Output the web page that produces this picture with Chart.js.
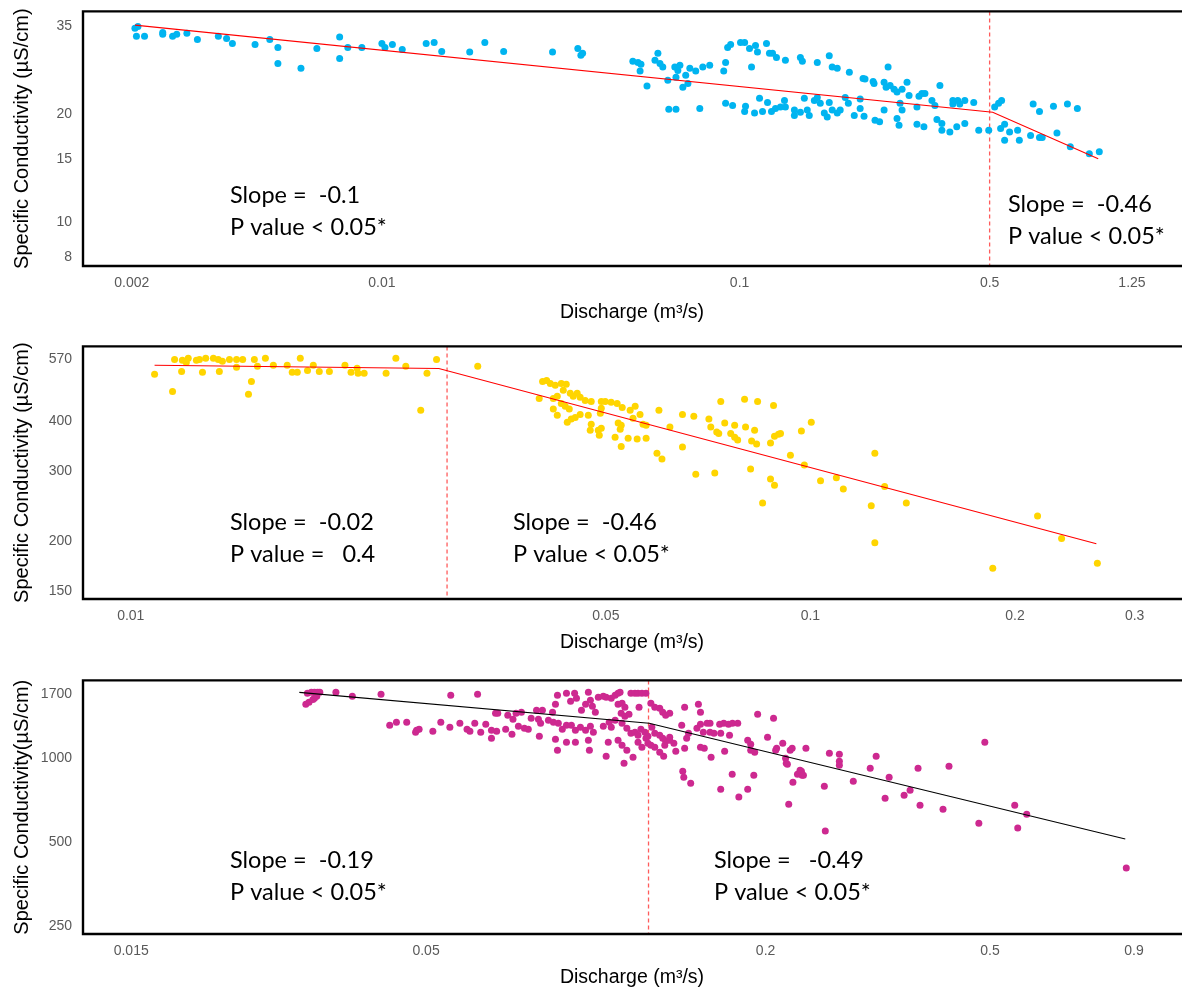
<!DOCTYPE html>
<html>
<head>
<meta charset="utf-8">
<script src="https://cdn.jsdelivr.net/npm/chart.js@4.4.1/dist/chart.umd.min.js"></script>
<style>
    html, body { margin: 0; padding: 0; background: #fff; overflow: hidden; }
    .panel { position: absolute; left: 0; width: 1186px; }
    canvas { display: block; }
</style>
</head>
<body>
<div class="panel" style="top:-7px"><canvas id="c1" width="1186" height="337"></canvas></div>
<div class="panel" style="top:328px"><canvas id="c2" width="1186" height="332"></canvas></div>
<div class="panel" style="top:662px"><canvas id="c3" width="1186" height="333"></canvas></div>
<script>
// ====== Panel 1 (blue) : discharge (m3/s) vs specific conductivity (uS/cm) ======
const q1 = [0.00204, 0.00208, 0.00206, 0.00217, 0.00244, 0.00244, 0.00260, 0.00267, 0.00285, 0.00305, 0.00349, 0.00368, 0.00382, 0.00442, 0.00486, 0.00512, 0.00512, 0.00594, 0.00658, 0.00762, 0.00762, 0.00803, 0.00879, 0.0100, 0.0102, 0.0107,
    0.0114, 0.0133, 0.0140, 0.0147, 0.0176, 0.0194, 0.0219, 0.0300, 0.0353, 0.0360, 0.0364,
    0.0503, 0.0520, 0.0530, 0.0527, 0.0551, 0.0591, 0.0580, 0.0599, 0.0610, 0.0630, 0.0659, 0.0681, 0.0672, 0.0664, 0.0694, 0.0717, 0.0707, 0.0726, 0.0754, 0.0789, 0.0825, 0.0634, 0.0664, 0.0774,
    0.0903, 0.0914, 0.0926, 0.0944, 0.1006, 0.1033, 0.1066, 0.1080, 0.1108, 0.1122, 0.1189, 0.1212, 0.1236, 0.1268, 0.1343, 0.1479, 0.1498, 0.1649, 0.1781, 0.1815, 0.1875, 0.2027, 0.2214, 0.2242, 0.2362, 0.2376, 0.2535, 0.2601, 0.2568, 0.2635, 0.2703, 0.2755, 0.2846, 0.2938, 0.2977, 0.3173, 0.3234, 0.3297, 0.3449, 0.3516, 0.3631,
    0.0914, 0.0956, 0.1033, 0.1039, 0.1101, 0.1137, 0.1159, 0.1197, 0.1228, 0.1260, 0.1301, 0.1335, 0.1343, 0.1423, 0.1423, 0.1479, 0.1517, 0.1546, 0.1566, 0.1618, 0.1649, 0.1681, 0.1725, 0.1758, 0.1781, 0.1815, 0.1875, 0.1911, 0.1974, 0.2014, 0.2092, 0.2173, 0.2228, 0.2173, 0.2391, 0.2463, 0.2535, 0.2791, 0.2755, 0.2809, 0.2846, 0.3132, 0.3276, 0.3132, 0.3562, 0.3677, 0.3677,
    0.3871, 0.3946, 0.3946, 0.4047, 0.4073, 0.4126, 0.4262, 0.4262, 0.4514, 0.4662, 0.4972, 0.5165, 0.5298, 0.5401, 0.5367, 0.5507, 0.5686, 0.5507, 0.5987, 0.6054, 0.6508, 0.6617, 0.6893, 0.6893, 0.7014, 0.7541, 0.7713, 0.8251, 0.8796, 0.8405, 0.9500, 1.013];
const sc1 = [34.6, 35.0, 32.9, 32.9, 33.7, 33.3, 32.9, 33.3, 33.5, 32.2, 32.9, 32.4, 31.4, 31.2, 32.2, 30.6, 27.6, 26.8, 30.4, 32.7, 28.5, 30.6, 30.6, 31.4, 30.6, 31.2,
    30.2, 31.4, 31.6, 29.8, 29.7, 31.6, 29.8, 29.7, 30.4, 29.1, 29.5,
    28.0, 27.8, 27.5, 26.3, 23.9, 29.5, 28.2, 27.6, 27.0, 24.8, 27.0, 27.3, 26.4, 25.3, 23.7, 24.3, 25.6, 26.8, 26.3, 27.0, 27.3, 20.6, 20.6, 20.7,
    26.3, 27.8, 30.6, 31.2, 31.6, 31.6, 30.4, 27.0, 31.0, 29.7, 31.4, 29.5, 29.5, 28.7, 28.2, 28.7, 28.0, 27.8, 29.0, 27.0, 26.8, 26.1, 25.1, 25.0, 24.6, 24.3, 24.5, 27.0, 23.7, 24.0, 23.4, 23.0, 23.4, 24.5, 22.5, 22.4, 22.8, 22.8, 21.8, 21.1, 24.0,
    21.4, 21.1, 20.3, 21.0, 20.1, 22.1, 20.3, 21.5, 20.3, 20.7, 20.9, 21.8, 20.9, 19.8, 20.5, 20.2, 22.1, 20.5, 19.8, 21.8, 22.2, 21.4, 20.1, 19.6, 21.5, 20.5, 20.1, 20.5, 22.2, 21.4, 19.8, 22.0, 19.7, 20.7, 19.2, 19.0, 20.5, 18.6, 19.4, 21.4, 20.5, 18.7, 18.4, 20.9, 19.3, 18.0, 18.8,
    17.8, 21.8, 21.3, 18.4, 21.8, 21.3, 21.8, 18.8, 21.5, 18.0, 18.0, 20.9, 21.4, 21.8, 18.2, 18.7, 17.8, 16.9, 18.0, 16.9, 17.4, 21.3, 20.3, 17.2, 17.2, 21.0, 17.7, 21.3, 20.7, 16.2, 15.5, 15.7];
const fitQ1 = [0.00204, 0.51, 1.006];
const fitSC1 = [35.3, 20.2, 15.0];
const breakQ1 = 0.5;
const xTicks1 = [0.002, 0.01, 0.1, 0.5, 1.25];
const yTicks1 = [8, 10, 15, 20, 35];

// ====== Panel 2 (gold) ======
const q2 = [0.01084, 0.01152, 0.01160, 0.01188, 0.01191, 0.01207, 0.01215, 0.01249, 0.01275, 0.01262, 0.01289, 0.01323, 0.01345, 0.01350, 0.01364, 0.01397, 0.01431, 0.01431, 0.01461, 0.01490, 0.01505, 0.01520, 0.01536, 0.01578, 0.01621, 0.01699, 0.01728, 0.01758, 0.01776, 0.01820, 0.01856, 0.01894, 0.01960, 0.02066, 0.02109, 0.02153, 0.02160, 0.02205, 0.02375, 0.02455,
    0.02539, 0.02728, 0.02818, 0.02671, 0.03240,
    0.04036, 0.04092, 0.04143, 0.04213, 0.04300, 0.04373, 0.04329, 0.04433, 0.04477, 0.04538, 0.04584, 0.04663, 0.04759, 0.04924, 0.04991, 0.05091, 0.05196, 0.05286, 0.05430, 0.05523, 0.03990, 0.04185, 0.04242, 0.04300, 0.04358, 0.04418, 0.04185, 0.04242, 0.04388, 0.04448, 0.04508, 0.04584, 0.04712, 0.04924, 0.04908, 0.04759, 0.04743, 0.04874, 0.04924, 0.04891,
    0.05214, 0.05268, 0.05250, 0.05160, 0.05268, 0.05393, 0.05560, 0.05732, 0.05483, 0.05615, 0.05672, 0.05732, 0.05986, 0.05946, 0.06048, 0.06213, 0.06483, 0.06483, 0.06737, 0.06782, 0.07233, 0.07090, 0.07136, 0.07281, 0.07331, 0.07381, 0.07481, 0.07634, 0.07737, 0.07816, 0.07737, 0.08001, 0.08028, 0.08166, 0.08194, 0.08278, 0.08334, 0.08362, 0.08826, 0.08736, 0.08855, 0.08976, 0.09037, 0.09346, 0.09700, 0.1003, 0.09797, 0.08736, 0.08855, 0.08505,
    0.1035, 0.1092, 0.1118, 0.1229, 0.1244, 0.1244, 0.1286, 0.1384, 0.1855, 0.2159, 0.2342, 0.2644];
const sc2 = [523, 474, 570, 532, 567, 560, 574, 567, 529, 570, 574, 574, 570, 532, 564, 570, 570, 545, 570, 466, 502, 570, 548, 574, 551, 551, 529, 529, 574, 535, 551, 532, 532, 551, 529, 542, 526, 526, 526, 574,
    548, 526, 570, 425, 548,
    502, 505, 496, 491, 496, 494, 477, 469, 461, 469, 458, 450, 447, 447, 447, 445, 442, 432, 425, 435, 455, 455, 461, 442, 435, 428, 428, 413, 397, 404, 408, 415, 413, 430, 418, 392, 379, 379, 383, 368,
    395, 390, 381, 364, 345, 362, 360, 362, 406, 415, 392, 390, 425, 332, 321, 386, 415, 344, 411, 294, 296, 404, 386, 375, 372, 447, 395, 372, 390, 358, 364, 453, 386, 303, 356, 379, 350, 447, 437, 352, 366, 370, 372, 328, 377, 397, 310, 286, 276, 249,
    283, 288, 270, 245, 332, 198, 274, 249, 171, 231, 203, 176];
const fitQ2 = [0.01084, 0.0284, 0.2635];
const fitSC2 = [551, 541, 197];
const breakQ2 = 0.0292;
const xTicks2 = [0.01, 0.05, 0.1, 0.2, 0.3];
const yTicks2 = [150, 200, 300, 400, 570];

// ====== Panel 3 (magenta) ======
const q3 = [0.0308, 0.0313, 0.0317, 0.0321, 0.0324, 0.0306, 0.0310, 0.0315, 0.0317, 0.0320, 0.0346, 0.0370, 0.0416, 0.0431, 0.0443, 0.0462, 0.0481, 0.0479,
    0.0553, 0.0617, 0.0486, 0.0514, 0.0531, 0.0551, 0.0574, 0.0591, 0.0598, 0.0610, 0.0625, 0.0638, 0.0653, 0.0653, 0.0667, 0.0664, 0.0670, 0.0692, 0.0698, 0.0710, 0.0713, 0.0722, 0.0729, 0.0738, 0.0747, 0.0759, 0.0768, 0.0785, 0.0791, 0.0794, 0.0798, 0.0804, 0.0824, 0.0838, 0.0848, 0.0855, 0.0887, 0.0902, 0.0917, 0.0924,
    0.0943, 0.0959, 0.0970, 0.0978, 0.0986, 0.0998, 0.1010, 0.1031, 0.1043, 0.1065, 0.1082, 0.1095, 0.1104, 0.1095, 0.1113, 0.1126, 0.1109, 0.1126, 0.1145, 0.1154, 0.1173, 0.1188, 0.1207, 0.1227, 0.1193, 0.1252, 0.1272, 0.1298, 0.1314, 0.1330, 0.1352, 0.1437, 0.1520, 0.1533, 0.1936, 0.2066,
    0.0841, 0.0858, 0.0872, 0.0887, 0.0905, 0.0920, 0.0939, 0.0959, 0.0978, 0.0990, 0.1031, 0.1056, 0.1065, 0.1082, 0.1113, 0.1135, 0.1154, 0.1173, 0.1188, 0.1202, 0.1222, 0.1237, 0.1257, 0.1272, 0.1298, 0.1314, 0.1330, 0.1352, 0.1375, 0.1420,
    0.1460, 0.1511, 0.1533, 0.1551, 0.1575, 0.1594, 0.1594, 0.1620, 0.1658, 0.1686, 0.1719, 0.1747, 0.1785, 0.1665, 0.1726, 0.1859, 0.1882, 0.2016, 0.1882, 0.1913, 0.2084, 0.2092, 0.2176, 0.2211, 0.2229, 0.2302, 0.2321, 0.2358, 0.2145, 0.2170,
    0.0848, 0.0855, 0.0887, 0.0920, 0.0970, 0.0974, 0.1043, 0.1052, 0.1095, 0.1113, 0.1122, 0.1135, 0.1164, 0.1188, 0.1207, 0.1227, 0.1237, 0.1252, 0.1272, 0.1298, 0.1319, 0.1325, 0.1352, 0.1386, 0.1437, 0.1449, 0.1533, 0.1557, 0.1601, 0.1692,
    0.1426, 0.1432, 0.1473, 0.1665, 0.1745, 0.1793, 0.1859, 0.1906, 0.2236, 0.2198,
    0.2186, 0.2278, 0.2315, 0.2334, 0.2542, 0.2552, 0.2595, 0.2703, 0.2703, 0.2703, 0.2861, 0.3066, 0.3141, 0.3258, 0.3312, 0.3521, 0.3608, 0.3727, 0.3757, 0.4127, 0.4229, 0.4777, 0.4895, 0.5531, 0.5599, 0.5808, 0.8722];
const sc3 = [1707, 1721, 1721, 1721, 1721, 1559, 1585, 1624, 1638, 1665, 1721, 1665, 1693, 1312, 1345, 1345, 1259, 1238,
    1679, 1693, 1269, 1249, 1345, 1291, 1334, 1269, 1249, 1334, 1238, 1323, 1259, 1179, 1249, 1448, 1448, 1269, 1424, 1218, 1378, 1448, 1301, 1460, 1280, 1269, 1390, 1484, 1378, 1198, 1334, 1484, 1367, 1460, 1559, 1679, 1707, 1598, 1707, 1638,
    1484, 1559, 1721, 1611, 1534, 1460, 1652, 1665, 1652, 1638, 1679, 1707, 1721, 1559, 1572, 1521, 1448, 1413, 1436, 1707, 1707, 1707, 1707, 1707, 1521, 1572, 1521, 1509, 1460, 1424, 1448, 1521, 1559, 1460, 1436, 1390,
    1345, 1334, 1269, 1312, 1312, 1259, 1291, 1259, 1301, 1238, 1301, 1345, 1291, 1367, 1334, 1280, 1228, 1238, 1208, 1269, 1238, 1198, 1291, 1228, 1208, 1179, 1150, 1189, 1131, 1312,
    1228, 1280, 1323, 1238, 1334, 1334, 1238, 1228, 1323, 1334, 1323, 1334, 1334, 1228, 1208, 1160, 1122, 1189, 1068, 1051, 1068, 1086, 960, 1068, 1086, 906, 869, 1086, 1131, 1000,
    1169, 1068, 1141, 1141, 1160, 1068, 1017, 1141, 1160, 1113, 960, 1068, 1008, 1141, 1095, 1179, 1131, 1113, 1095, 1051, 1017, 1113, 1160, 1059, 1086, 1179, 1095, 1086, 1008, 1059,
    898, 855, 814, 775, 877, 726, 775, 869, 821, 685,
    952, 877, 898, 869, 794, 549, 1042, 1033, 976, 944, 828, 921, 1017, 720, 855, 738, 769, 921, 679, 657, 936, 586, 1141, 679, 563, 631, 405];
const fitQ3 = [0.0298, 0.1243, 0.8686];
const fitSC3 = [1721, 1334, 514];
const breakQ3 = 0.124;
const xTicks3 = [0.015, 0.05, 0.2, 0.5, 0.9];
const yTicks3 = [250, 500, 1000, 1700];

Chart.defaults.font.family = '"Liberation Sans", Arial, sans-serif';

// ---- frame, breakpoint line and slope notes ----
const framePlugin = {
    id: 'frame',
    beforeDatasetsDraw(chart, args, opts) {
        const {ctx, chartArea: a} = chart;
        const bx = chart.scales.x.getPixelForValue(opts.breakQ);
        ctx.save();
        ctx.strokeStyle = 'rgba(255, 50, 50, 0.8)';
        ctx.lineWidth = 1.3;
        ctx.setLineDash([4, 3]);
        ctx.beginPath();
        ctx.moveTo(bx, a.top);
        ctx.lineTo(bx, a.bottom);
        ctx.stroke();
        ctx.restore();
    },
    afterDatasetsDraw(chart, args, opts) {
        const {ctx, chartArea: a} = chart;
        ctx.save();
        ctx.strokeStyle = '#000';
        ctx.lineWidth = 2.4;
        ctx.beginPath();
        ctx.moveTo(a.right, a.top);
        ctx.lineTo(a.left + 1, a.top);
        ctx.lineTo(a.left + 1, a.bottom);
        ctx.lineTo(a.right, a.bottom);
        ctx.stroke();
        ctx.fillStyle = '#000';
        ctx.font = '23.5px Lato, "Open Sans", sans-serif';
        ctx.textBaseline = 'alphabetic';
        opts.notes.forEach(n => {
            n.lines.forEach((t, i) => ctx.fillText(t, a.left + n.dx, a.top + n.dy + i * 32));
        });
        ctx.restore();
    }
};

function buildPanel(id, p) {
    const points = p.q.map((v, i) => ({x: v, y: p.sc[i]}));
    const fit = p.fitQ.map((v, i) => ({x: v, y: p.fitSC[i]}));
    return new Chart(document.getElementById(id), {
        type: 'scatter',
        data: {
            datasets: [
                {data: fit, showLine: true, borderColor: p.fitColor, borderWidth: 1.1, pointRadius: 0, fill: false},
                {data: points, backgroundColor: p.color, borderWidth: 0, pointRadius: 3.5}
            ]
        },
        options: {
            responsive: false,
            animation: false,
            events: [],
            layout: {padding: 0},
            plugins: {
                legend: {display: false},
                tooltip: {enabled: false},
                frame: {breakQ: p.breakQ, notes: p.notes}
            },
            scales: {
                x: {
                    type: 'logarithmic',
                    min: p.xMin, max: p.xMax, bounds: 'data',
                    grid: {display: false, drawTicks: false},
                    border: {display: false},
                    afterBuildTicks: s => { s.ticks = p.xTicks.map(v => ({value: v})); },
                    afterFit: s => { s.height = p.xAxisH; },
                    ticks: {autoSkip: false, maxRotation: 0, padding: 9, color: '#595959', font: {size: 14}, callback: v => String(v)},
                    title: {display: true, text: 'Discharge (m³/s)', color: '#000', font: {size: 19.5}, padding: {top: 0, bottom: 6}}
                },
                y: {
                    type: 'logarithmic',
                    min: p.yMin, max: p.yMax, bounds: 'data',
                    grid: {display: false, drawTicks: false},
                    border: {display: false},
                    afterBuildTicks: s => { s.ticks = p.yTicks.map(v => ({value: v})); },
                    afterFit: s => { s.width = 82; },
                    ticks: {autoSkip: false, padding: 10, color: '#595959', font: {size: 14}, callback: v => String(v)},
                    title: {display: true, text: p.yTitle, color: '#000', font: {size: 20}, padding: {top: 10, bottom: 0}}
                }
            }
        },
        plugins: [framePlugin]
    });
}

buildPanel('c1', {
    q: q1, sc: sc1, fitQ: fitQ1, fitSC: fitSC1, breakQ: breakQ1, xTicks: xTicks1, yTicks: yTicks1,
    color: '#00b4f0', fitColor: '#ff0000',
    xMin: 0.001451, xMax: 1.725, yMin: 7.546, yMax: 38.55,
    xAxisH: 64,
    yTitle: 'Specific Conductivity (µS/cm)',
    notes: [
        {dx: 148, dy: 192, lines: ['Slope =  -0.1', 'P value < 0.05*']},
        {dx: 926, dy: 201, lines: ['Slope =  -0.46', 'P value < 0.05*']}
    ]
});

buildPanel('c2', {
    q: q2, sc: sc2, fitQ: fitQ2, fitSC: fitSC2, breakQ: breakQ2, xTicks: xTicks2, yTicks: yTicks2,
    color: '#ffd500', fitColor: '#ff0000',
    xMin: 0.008477, xMax: 0.3522, yMin: 143.2, yMax: 614.4,
    xAxisH: 61,
    yTitle: 'Specific Conductivity (µS/cm)',
    notes: [
        {dx: 148, dy: 184, lines: ['Slope =  -0.02', 'P value =   0.4']},
        {dx: 431, dy: 184, lines: ['Slope =  -0.46', 'P value < 0.05*']}
    ]
});

buildPanel('c3', {
    q: q3, sc: sc3, fitQ: fitQ3, fitSC: fitSC3, breakQ: breakQ3, xTicks: xTicks3, yTicks: yTicks3,
    color: '#cd2990', fitColor: '#000000',
    xMin: 0.01227, xMax: 1.095, yMin: 235.1, yMax: 1899,
    xAxisH: 61,
    yTitle: 'Specific Conductivity(µS/cm)',
    notes: [
        {dx: 148, dy: 188, lines: ['Slope =  -0.19', 'P value < 0.05*']},
        {dx: 632, dy: 188, lines: ['Slope =   -0.49', 'P value < 0.05*']}
    ]
});
</script>
</body>
</html>
